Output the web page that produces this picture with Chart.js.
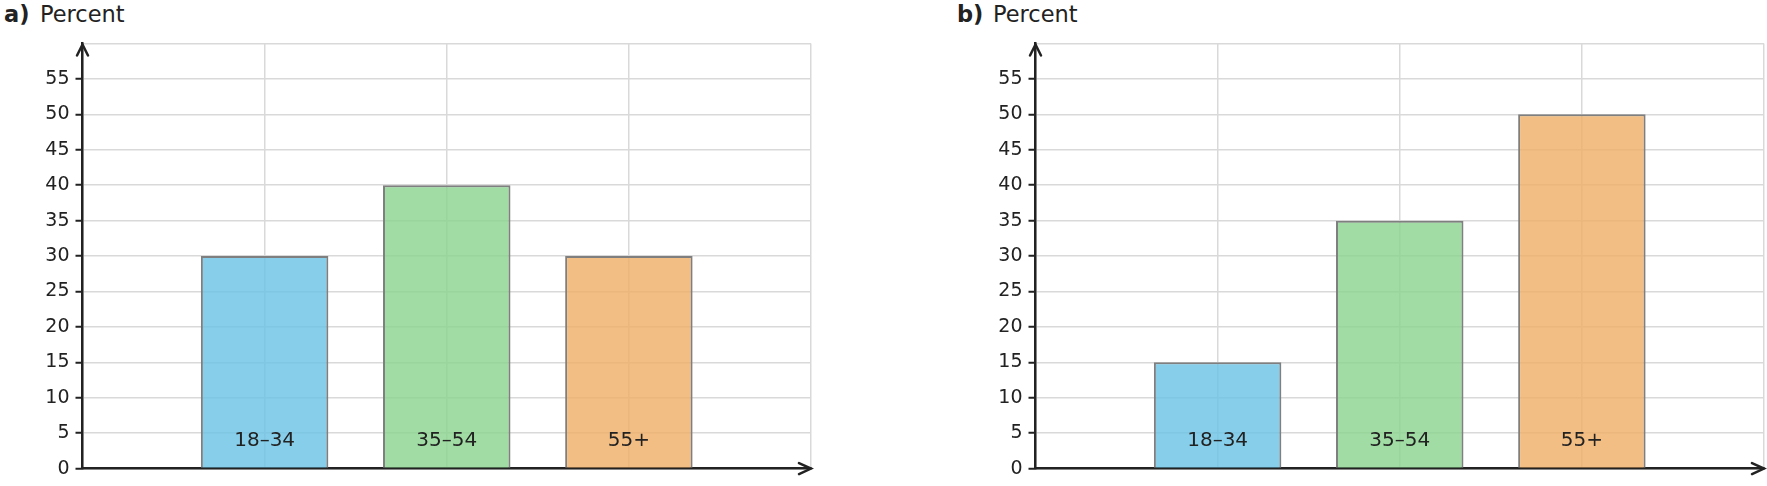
<!DOCTYPE html>
<html>
<head>
<meta charset="utf-8">
<script src="https://cdn.jsdelivr.net/npm/chart.js@4.4.1/dist/chart.umd.min.js"></script>
<style>
  html, body { margin: 0; padding: 0; background: #fff; }
  body { width: 1767px; height: 486px; position: relative; overflow: hidden; font-family: "DejaVu Sans", sans-serif; color: #222; }
  .panel { position: absolute; top: 0; width: 814px; height: 486px; }
  .panel canvas { position: absolute; left: 0; top: 0; }
  .ttl { position: absolute; top: 3px; font-size: 22.5px; line-height: 22px; white-space: nowrap; }
  .ttl b { position: absolute; left: 4px; }
  .ttl span { position: absolute; left: 40px; }
</style>
</head>
<body>
<div class="panel" style="left:0">
  <div class="ttl"><b>a)</b><span>Percent</span></div>
  <canvas id="chartA"></canvas>
</div>
<div class="panel" style="left:953px">
  <div class="ttl"><b>b)</b><span>Percent</span></div>
  <canvas id="chartB"></canvas>
</div>
<script>
// age groups, padded with empty slots at both ends
const ageGroups = ['', '18–34', '35–54', '55+', '']
const valuesA = [null, 30, 40, 30, null]
const valuesB = [null, 15, 35, 50, null]
const yTicks = [0, 5, 10, 15, 20, 25, 30, 35, 40, 45, 50, 55]

const barColors = [null, 'rgba(105,194,229,0.8)', 'rgba(136,211,140,0.8)', 'rgba(239,174,100,0.8)', null]
const ink = '#222'

// draws arrowheads on the axes and the group names inside the bars
const decorations = {
  id: 'decorations',
  afterDatasetsDraw(chart) {
    const { ctx, scales } = chart
    const xs = scales.x, ys = scales.y
    ctx.save()
    ctx.font = '20px "DejaVu Sans"'
    ctx.fillStyle = ink
    ctx.textAlign = 'center'
    ctx.textBaseline = 'alphabetic'
    const base = ys.getPixelForValue(0)
    chart.data.labels.forEach((lab, i) => {
      if (!lab) return
      ctx.fillText(lab, xs.getPixelForValue(i), base - 23)
    })
    ctx.restore()
  },
  afterDraw(chart) {
    const { ctx, chartArea } = chart
    ctx.save()
    ctx.strokeStyle = ink
    ctx.lineWidth = 2.5
    ctx.lineCap = 'round'
    // y arrow
    const yx = chartArea.left, yt = chartArea.top + 1
    ctx.beginPath()
    ctx.moveTo(yx - 5.5, yt + 11)
    ctx.lineTo(yx, yt)
    ctx.lineTo(yx + 5.5, yt + 11)
    ctx.stroke()
    // x arrow
    const xr = chartArea.right, xb = chartArea.bottom
    ctx.beginPath()
    ctx.moveTo(xr - 12, xb - 5.5)
    ctx.lineTo(xr, xb)
    ctx.lineTo(xr - 12, xb + 5.5)
    ctx.stroke()
    ctx.restore()
  }
}

function makeChart(id, values) {
  const ctx = document.getElementById(id).getContext('2d')
  return new Chart(ctx, {
    type: 'bar',
    data: {
      labels: ageGroups,
      datasets: [{
        data: values,
        backgroundColor: barColors,
        borderColor: '#7f7f7f',
        borderWidth: 2,
        borderSkipped: 'bottom',
        categoryPercentage: 1.0,
        barPercentage: 0.7,
      }],
    },
    options: {
      responsive: true,
      maintainAspectRatio: false,
      animation: false,
      layout: {
        padding: { top: 43.5, right: 3, bottom: 13.5, left: 0 },
      },
      scales: {
        x: {
          type: 'category',
          offset: false,
          grid: { offset: false, color: '#d9d9d9', lineWidth: 1.5, drawTicks: false },
          border: { display: true, color: ink, width: 2.5 },
          ticks: { display: false },
          afterFit: s => { s.height = 0 },
        },
        y: {
          min: 0,
          max: 60,
          afterBuildTicks: s => {
            s.ticks = yTicks.concat([60]).map(v => ({ value: v }))
          },
          grid: {
            color: '#d9d9d9',
            lineWidth: 1.5,
            tickLength: 7,
            tickWidth: 2,
            tickColor: c => (c.tick && c.tick.value === 60 ? 'rgba(0,0,0,0)' : ink),
          },
          border: { display: true, color: ink, width: 2.5 },
          ticks: {
            color: ink,
            padding: 6,
            font: { family: 'DejaVu Sans', size: 19 },
            callback: v => (yTicks.includes(v) ? String(v) : ''),
          },
          afterFit: s => { s.width = 82.5 },
        },
      },
      plugins: {
        legend: { display: false },
        tooltip: { enabled: false },
      },
    },
    plugins: [decorations],
  })
}

makeChart('chartA', valuesA)
makeChart('chartB', valuesB)
</script>
</body>
</html>
